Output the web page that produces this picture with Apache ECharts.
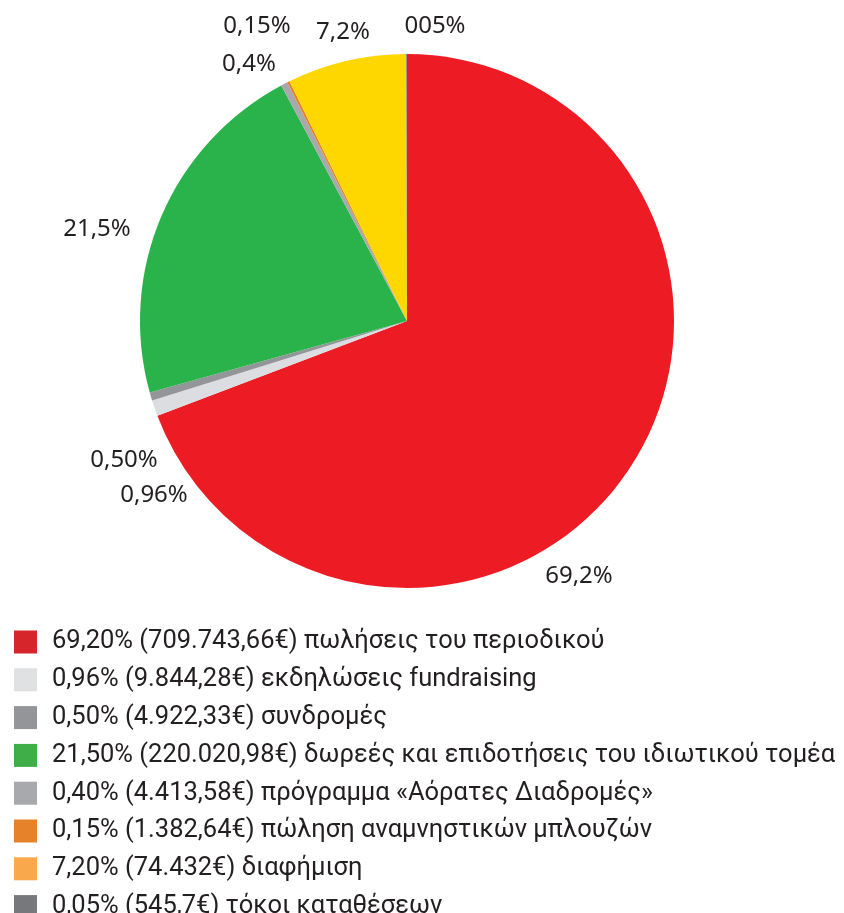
<!DOCTYPE html>
<html>
<head>
<meta charset="utf-8">
<script src="https://cdn.jsdelivr.net/npm/echarts@6/dist/echarts.min.js"></script>
<style>
  html, body { margin: 0; padding: 0; background: #fff; }
  #chart { width: 844px; height: 913px; }
</style>
</head>
<body>
<div id="chart"></div>
<script>
// δεδομένα εσόδων (ποσοστά %)
const names = [
    '69,20% (709.743,66€) πωλήσεις του περιοδικού',
    '0,96% (9.844,28€) εκδηλώσεις fundraising',
    '0,50% (4.922,33€) συνδρομές',
    '21,50% (220.020,98€) δωρεές και επιδοτήσεις του ιδιωτικού τομέα',
    '0,40% (4.413,58€) πρόγραμμα «Αόρατες Διαδρομές»',
    '0,15% (1.382,64€) πώληση αναμνηστικών μπλουζών',
    '7,20% (74.432€) διαφήμιση',
    '0,05% (545,7€) τόκοι καταθέσεων'
];
const values = [69.2, 0.96, 0.5, 21.5, 0.4, 0.15, 7.2, 0.05];
const pieLabels = ['69,2%', '0,96%', '0,50%', '21,5%', '0,4%', '0,15%', '7,2%', '005%'];

// χρώματα: πίτα και υπόμνημα διαφέρουν λίγο
const sliceColors = ['#ed1c24', '#dcdde0', '#939598', '#2bb34b', '#a7a9ac', '#e5822a', '#ffd700', '#808285'];
const legendColors = ['#d7262b', '#e0e1e3', '#939598', '#3fae49', '#a7a9ac', '#e6822a', '#f9a94b', '#77787b'];

// οι ετικέτες της πίτας είναι τοποθετημένες με το χέρι στο πρωτότυπο
const labelSpots = [[579, 576], [154, 495], [124, 460], [97, 229], [249, 64], [257, 26], [343, 32], [435, 26]];

const chart = echarts.init(document.getElementById('chart'));

chart.setOption({
    animation: false,
    legend: {
        orient: 'vertical',
        left: 14,
        top: 629,
        width: 830,
        height: 320,
        padding: 0,
        itemWidth: 23,
        itemHeight: 23,
        itemGap: 11.8,
        icon: 'rect',
        selectedMode: false,
        textStyle: {
            fontFamily: 'Roboto',
            fontSize: 25.5,
            color: '#231f20',
            padding: [0, 0, 0, 10]
        },
        data: names.map((n, i) => ({ name: n, itemStyle: { color: legendColors[i] } }))
    },
    series: [{
        type: 'pie',
        center: [407, 321],
        radius: 267,
        startAngle: 90,
        clockwise: true,
        avoidLabelOverlap: false,
        label: {
            show: true,
            position: 'outside',
            fontFamily: 'Noto Sans',
            fontSize: 24,
            color: '#231f20',
            formatter: p => pieLabels[p.dataIndex]
        },
        labelLine: { show: false },
        labelLayout: p => ({
            x: labelSpots[p.dataIndex][0],
            y: labelSpots[p.dataIndex][1],
            align: 'center',
            verticalAlign: 'middle',
            hideOverlap: false
        }),
        data: values.map((v, i) => ({
            name: names[i],
            value: v,
            itemStyle: { color: sliceColors[i] }
        }))
    }]
});
</script>
</body>
</html>
